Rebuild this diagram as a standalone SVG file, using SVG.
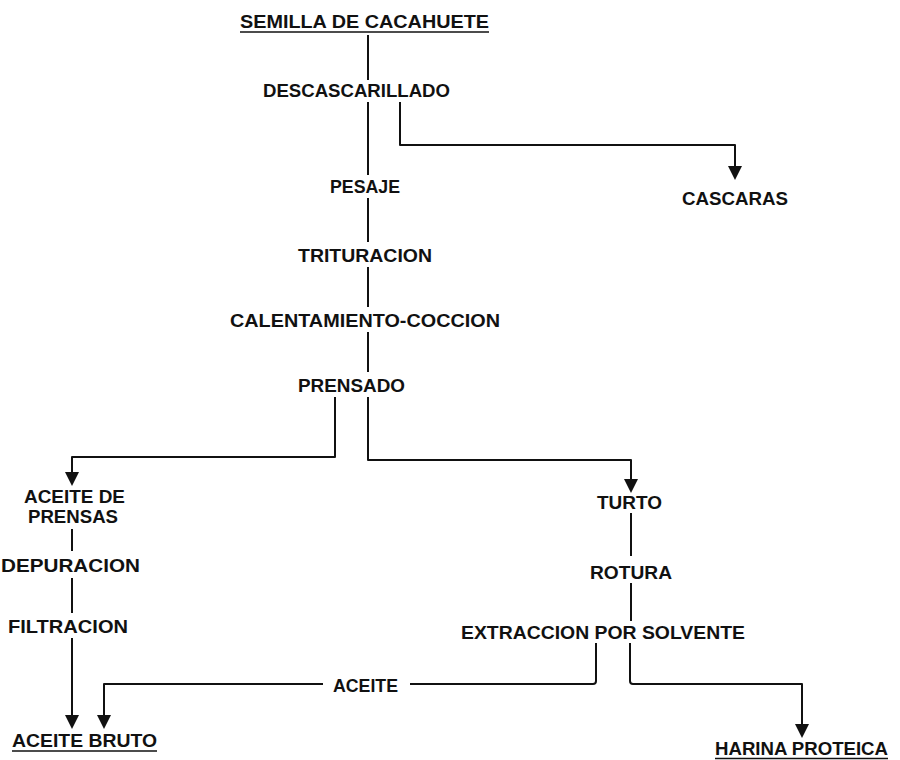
<svg xmlns="http://www.w3.org/2000/svg" width="900" height="760" viewBox="0 0 900 760">
  <style>
    .t { font-family: "Liberation Sans", Arial, sans-serif; font-size: 18px; font-weight: bold; fill: #111; }
    .c { fill: none; stroke: #111; stroke-width: 2; stroke-linejoin: round; }
    .a { fill: #111; stroke: none; }
    .u { stroke: #111; stroke-width: 1.6; }
  </style>
  <rect width="900" height="760" fill="#ffffff"/>

  <g id="connectors">
    <path class="c" d="M368 35 V80"/>
    <path class="c" d="M368 102 V175"/>
    <path class="c" d="M368 198 V242"/>
    <path class="c" d="M368 267 V307"/>
    <path class="c" d="M368 332 V372"/>
    <path class="c" d="M368 397 V460 H631 V480"/>
    <polygon class="a" points="624,479 638,479 631,493"/>
    <path class="c" d="M400 102 V145 H735 V167"/>
    <polygon class="a" points="728,166 742,166 735,180"/>
    <path class="c" d="M335 397 V457 H72 V473"/>
    <polygon class="a" points="65,472 79,472 72,486"/>
    <path class="c" d="M72 529 V551"/>
    <path class="c" d="M72 578 V613"/>
    <path class="c" d="M72 638 V716"/>
    <polygon class="a" points="65,715 79,715 72,729"/>
    <path class="c" d="M631 513 V556"/>
    <path class="c" d="M631 583 V621"/>
    <path class="c" d="M596 643 V681 Q596 684 593 684 H410"/>
    <path class="c" d="M323 684 H104 V716"/>
    <polygon class="a" points="97,715 111,715 104,729"/>
    <path class="c" d="M630 643 V681 Q630 684 633 684 H802 V725"/>
    <polygon class="a" points="795,724 809,724 802,738"/>
  </g>

  <g id="semilla">
    <text class="t" x="240" y="28" textLength="249" lengthAdjust="spacingAndGlyphs">SEMILLA DE CACAHUETE</text>
    <line class="u" x1="240" y1="32" x2="489" y2="32"/>
  </g>
  <g id="descascarillado">
    <text class="t" x="263" y="97" textLength="187" lengthAdjust="spacingAndGlyphs">DESCASCARILLADO</text>
  </g>
  <g id="cascaras">
    <text class="t" x="682" y="205" textLength="106" lengthAdjust="spacingAndGlyphs">CASCARAS</text>
  </g>
  <g id="pesaje">
    <text class="t" x="330" y="193" textLength="70" lengthAdjust="spacingAndGlyphs">PESAJE</text>
  </g>
  <g id="trituracion">
    <text class="t" x="298" y="262" textLength="134" lengthAdjust="spacingAndGlyphs">TRITURACION</text>
  </g>
  <g id="calentamiento">
    <text class="t" x="230" y="327" textLength="270" lengthAdjust="spacingAndGlyphs">CALENTAMIENTO-COCCION</text>
  </g>
  <g id="prensado">
    <text class="t" x="298" y="392" textLength="107" lengthAdjust="spacingAndGlyphs">PRENSADO</text>
  </g>
  <g id="aceite-prensas">
    <text class="t" x="24" y="503" textLength="101" lengthAdjust="spacingAndGlyphs">ACEITE DE</text>
    <text class="t" x="28" y="523" textLength="90" lengthAdjust="spacingAndGlyphs">PRENSAS</text>
  </g>
  <g id="depuracion">
    <text class="t" x="1" y="572" textLength="139" lengthAdjust="spacingAndGlyphs">DEPURACION</text>
  </g>
  <g id="filtracion">
    <text class="t" x="8" y="633" textLength="120" lengthAdjust="spacingAndGlyphs">FILTRACION</text>
  </g>
  <g id="aceite-bruto">
    <text class="t" x="12" y="747" textLength="145" lengthAdjust="spacingAndGlyphs">ACEITE BRUTO</text>
    <line class="u" x1="12" y1="751" x2="157" y2="751"/>
  </g>
  <g id="turto">
    <text class="t" x="597" y="509" textLength="65" lengthAdjust="spacingAndGlyphs">TURTO</text>
  </g>
  <g id="rotura">
    <text class="t" x="590" y="579" textLength="82" lengthAdjust="spacingAndGlyphs">ROTURA</text>
  </g>
  <g id="extraccion">
    <text class="t" x="461" y="639" textLength="284" lengthAdjust="spacingAndGlyphs">EXTRACCION POR SOLVENTE</text>
  </g>
  <g id="aceite-label">
    <text class="t" x="333" y="692" textLength="65" lengthAdjust="spacingAndGlyphs">ACEITE</text>
  </g>
  <g id="harina">
    <text class="t" x="715" y="755" textLength="173" lengthAdjust="spacingAndGlyphs">HARINA PROTEICA</text>
    <line class="u" x1="715" y1="758.5" x2="888" y2="758.5"/>
  </g>
</svg>
